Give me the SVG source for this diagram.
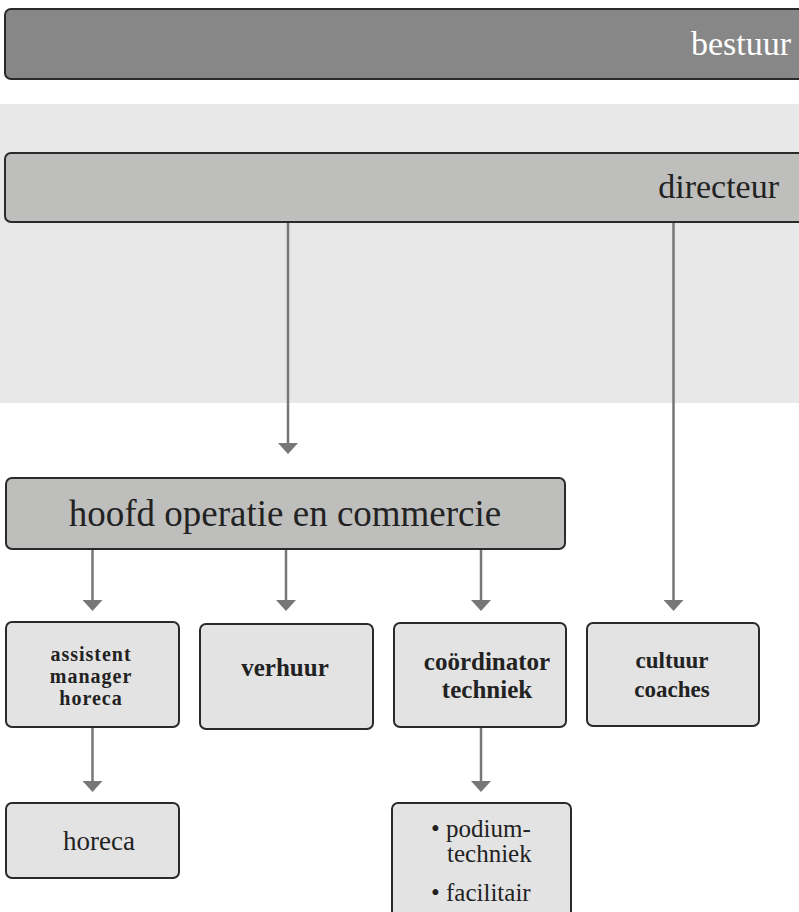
<svg xmlns="http://www.w3.org/2000/svg" width="799" height="912" viewBox="0 0 799 912">
  <style>
    .box { stroke: #2a2a2a; stroke-width: 2; }
    .dark { fill: #878787; }
    .mid { fill: #bebebd; }
    .light { fill: #e3e3e3; }
    .t { font-family: "Liberation Serif", "Times New Roman", serif; fill: #222222; }
    .w { fill: #ffffff; }
    .b { font-weight: bold; }
    .conn { stroke: #777777; stroke-width: 2.5; fill: none; marker-end: url(#arrow); }
  </style>
  <defs>
    <marker id="arrow" markerUnits="userSpaceOnUse" markerWidth="11" markerHeight="20" viewBox="0 -10 11 20" refX="0" refY="0" orient="auto">
      <path d="M0,-10 L11,0 L0,10 Z" fill="#777777"/>
    </marker>
  </defs>

  <rect id="band" x="0" y="104" width="799" height="299" fill="#e8e8e8"/>

  <g id="bestuur">
    <rect class="box dark" x="5" y="9" width="820" height="70" rx="6"/>
    <text class="t w" x="791" y="55" font-size="34" text-anchor="end">bestuur</text>
  </g>

  <g id="directeur">
    <rect class="box mid" x="5" y="153" width="820" height="69" rx="6"/>
    <text class="t" x="779" y="198" font-size="34" text-anchor="end">directeur</text>
  </g>

  <g id="hoofd">
    <rect class="box mid" x="6" y="478" width="559" height="71" rx="6"/>
    <text class="t" x="285" y="526" font-size="37" text-anchor="middle">hoofd operatie en commercie</text>
  </g>

  <g id="assistent">
    <rect class="box light" x="6" y="622" width="173" height="105" rx="6"/>
    <text class="t b" x="91" y="661" font-size="20" letter-spacing="1" text-anchor="middle">assistent</text>
    <text class="t b" x="91" y="683" font-size="20" letter-spacing="1" text-anchor="middle">manager</text>
    <text class="t b" x="91" y="705" font-size="20" letter-spacing="1" text-anchor="middle">horeca</text>
  </g>

  <g id="verhuur">
    <rect class="box light" x="200" y="624" width="173" height="105" rx="6"/>
    <text class="t b" x="285" y="676" font-size="25" text-anchor="middle">verhuur</text>
  </g>

  <g id="coordinator">
    <rect class="box light" x="394" y="623" width="172" height="104" rx="6"/>
    <text class="t b" x="487" y="670" font-size="25" text-anchor="middle">coördinator</text>
    <text class="t b" x="487" y="698" font-size="25" text-anchor="middle">techniek</text>
  </g>

  <g id="cultuur">
    <rect class="box light" x="587" y="623" width="172" height="103" rx="6"/>
    <text class="t b" x="672" y="668" font-size="23" text-anchor="middle">cultuur</text>
    <text class="t b" x="672" y="697" font-size="23" text-anchor="middle">coaches</text>
  </g>

  <g id="horeca">
    <rect class="box light" x="6" y="803" width="173" height="75" rx="6"/>
    <text class="t" x="99" y="850" font-size="27" text-anchor="middle">horeca</text>
  </g>

  <g id="podium">
    <rect class="box light" x="392" y="803" width="179" height="130" rx="6"/>
    <text class="t" x="431" y="837" font-size="25">• podium-</text>
    <text class="t" x="447" y="862" font-size="25">techniek</text>
    <text class="t" x="431" y="901" font-size="25">• facilitair</text>
  </g>

  <g id="connectors">
    <line class="conn" x1="288" y1="223" x2="288" y2="443"/>
    <line class="conn" x1="673.5" y1="223" x2="673.5" y2="600"/>
    <line class="conn" x1="92.5" y1="550" x2="92.5" y2="600"/>
    <line class="conn" x1="286" y1="550" x2="286" y2="600"/>
    <line class="conn" x1="481" y1="550" x2="481" y2="600"/>
    <line class="conn" x1="92.5" y1="728" x2="92.5" y2="781"/>
    <line class="conn" x1="481" y1="728" x2="481" y2="781"/>
  </g>
</svg>
